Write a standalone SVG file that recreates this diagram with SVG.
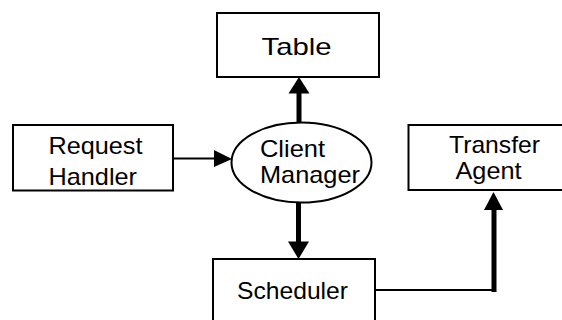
<svg xmlns="http://www.w3.org/2000/svg" width="562" height="320" viewBox="0 0 562 320">
<style>
.box{fill:#fff;stroke:#000;stroke-width:2}
.t{font-family:"Liberation Sans",Arial,sans-serif;font-size:24px;fill:#000}
.thin{stroke:#000;stroke-width:2;fill:none}
.thick{stroke:#000;stroke-width:5;fill:none}
.head{fill:#000;stroke:none}
</style>
<rect width="562" height="320" fill="#fff"/>
<g id="connectors">
<line class="thin" x1="173" y1="158.5" x2="216" y2="158.5"/>
<polygon class="head" points="232,159 214,150 214,167"/>
<line class="thick" x1="299" y1="124" x2="299" y2="92"/>
<polygon class="head" points="299,77 288.5,93.5 309.5,93.5"/>
<line class="thick" x1="298.5" y1="201" x2="298.5" y2="243"/>
<polygon class="head" points="298.5,259 288,241.5 309,241.5"/>
<polyline class="thin" points="373,290 494,290"/>
<line class="thick" x1="494" y1="292" x2="494" y2="208"/>
<polygon class="head" points="493.5,192 484,210 503,210"/>
</g>
<g id="table">
<rect class="box" x="217" y="13" width="162" height="64"/>
<text class="t" x="261.5" y="55" textLength="70" lengthAdjust="spacingAndGlyphs">Table</text>
</g>
<g id="request-handler">
<rect class="box" x="13" y="125" width="160" height="65.5"/>
<text class="t" x="48.5" y="154" textLength="94" lengthAdjust="spacingAndGlyphs">Request</text>
<text class="t" x="48.5" y="184.5" textLength="88.5" lengthAdjust="spacingAndGlyphs">Handler</text>
</g>
<g id="client-manager">
<ellipse class="box" cx="301.5" cy="162.5" rx="70" ry="40"/>
<text class="t" x="260" y="157" textLength="65" lengthAdjust="spacingAndGlyphs">Client</text>
<text class="t" x="260" y="182.5" textLength="100" lengthAdjust="spacingAndGlyphs">Manager</text>
</g>
<g id="transfer-agent">
<rect class="box" x="408.5" y="125" width="160" height="65"/>
<text class="t" x="449" y="152.5" textLength="91" lengthAdjust="spacingAndGlyphs">Transfer</text>
<text class="t" x="455.5" y="179" textLength="66" lengthAdjust="spacingAndGlyphs">Agent</text>
</g>
<g id="scheduler">
<rect class="box" x="213" y="259" width="162" height="70"/>
<text class="t" x="237" y="299" textLength="111" lengthAdjust="spacingAndGlyphs">Scheduler</text>
</g>
</svg>
